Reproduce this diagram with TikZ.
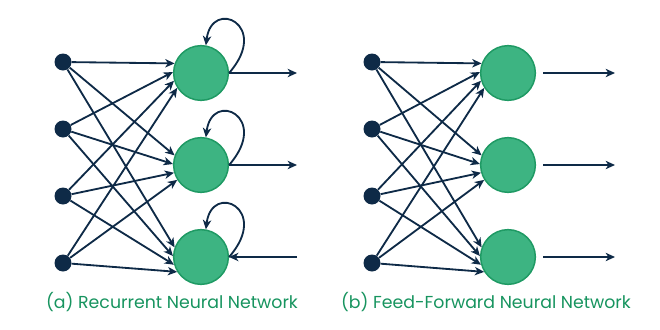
\documentclass[tikz,border=0pt]{standalone}
\usepackage{fontspec}
\setmainfont{Poppins}
\usepackage{xcolor}
\usetikzlibrary{arrows.meta,positioning}
\definecolor{navy}{HTML}{0E2A47}
\definecolor{leaf}{HTML}{3DB482}
\definecolor{leafdark}{HTML}{1F9A64}
\definecolor{capgreen}{HTML}{17945F}

\begin{document}
\begin{tikzpicture}[
    x=0.3mm, y=-0.3mm,
    inp/.style={circle, fill=navy, minimum size=5.1mm, inner sep=0pt},
    neuron/.style={circle, draw=leafdark, fill=leaf, line width=0.45mm,
    minimum size=16.4mm, inner sep=0pt},
    arr/.style={-{Stealth[length=2.8mm, width=2.5mm, inset=0.8mm]}, draw=navy,
    line width=0.55mm},
    captext/.style={text=capgreen, font=\fontsize{14.8}{16}\selectfont}
]
\useasboundingbox (0,0) rectangle (660,330);

% (a) recurrent
\node[inp] (a1) at (63,62) {};
\node[inp] (a2) at (63,129) {};
\node[inp] (a3) at (63,196) {};
\node[inp] (a4) at (63,263) {};
\node[neuron] (r1) at (201,73) {};
\node[neuron] (r2) at (201,165) {};
\node[neuron] (r3) at (201,257) {};
\coordinate (ro1) at (297,73);
\coordinate (ro2) at (297,165);
\coordinate (ri3) at (297,257);
\foreach \i/\a in {1/160,2/178,3/196,4/212}
  \foreach \j in {1,2,3}
    \draw[arr] (a\i) -- (r\j.\a);
\foreach \j in {1,2,3}
  \draw[arr] (r\j.east) .. controls +(42,-48) and +(6,-48) .. (r\j.80);
\draw[arr] (r1.east) -- (ro1);
\draw[arr] (r2.east) -- (ro2);
\draw[arr] (ri3) -- (r3.east);
\node[captext] (capa) at (172,302) {(a) Recurrent Neural Network};

% (b) feed-forward
\node[inp] (b1) at (372,62) {};
\node[inp] (b2) at (372,129) {};
\node[inp] (b3) at (372,196) {};
\node[inp] (b4) at (372,263) {};
\node[neuron] (f1) at (508,73) {};
\node[neuron] (f2) at (508,165) {};
\node[neuron] (f3) at (508,257) {};
\coordinate (fo1) at (615,73);
\coordinate (fo2) at (615,165);
\coordinate (fo3) at (615,257);
\foreach \i/\a in {1/160,2/178,3/196,4/212}
  \foreach \j in {1,2,3}
    \draw[arr] (b\i) -- (f\j.\a);
\foreach \j in {1,2,3}
  \draw[arr, shorten <=2.1mm] (f\j.east) -- (fo\j);
\node[captext] (capb) at (486,302) {(b) Feed-Forward Neural Network};
\end{tikzpicture}
\end{document}
